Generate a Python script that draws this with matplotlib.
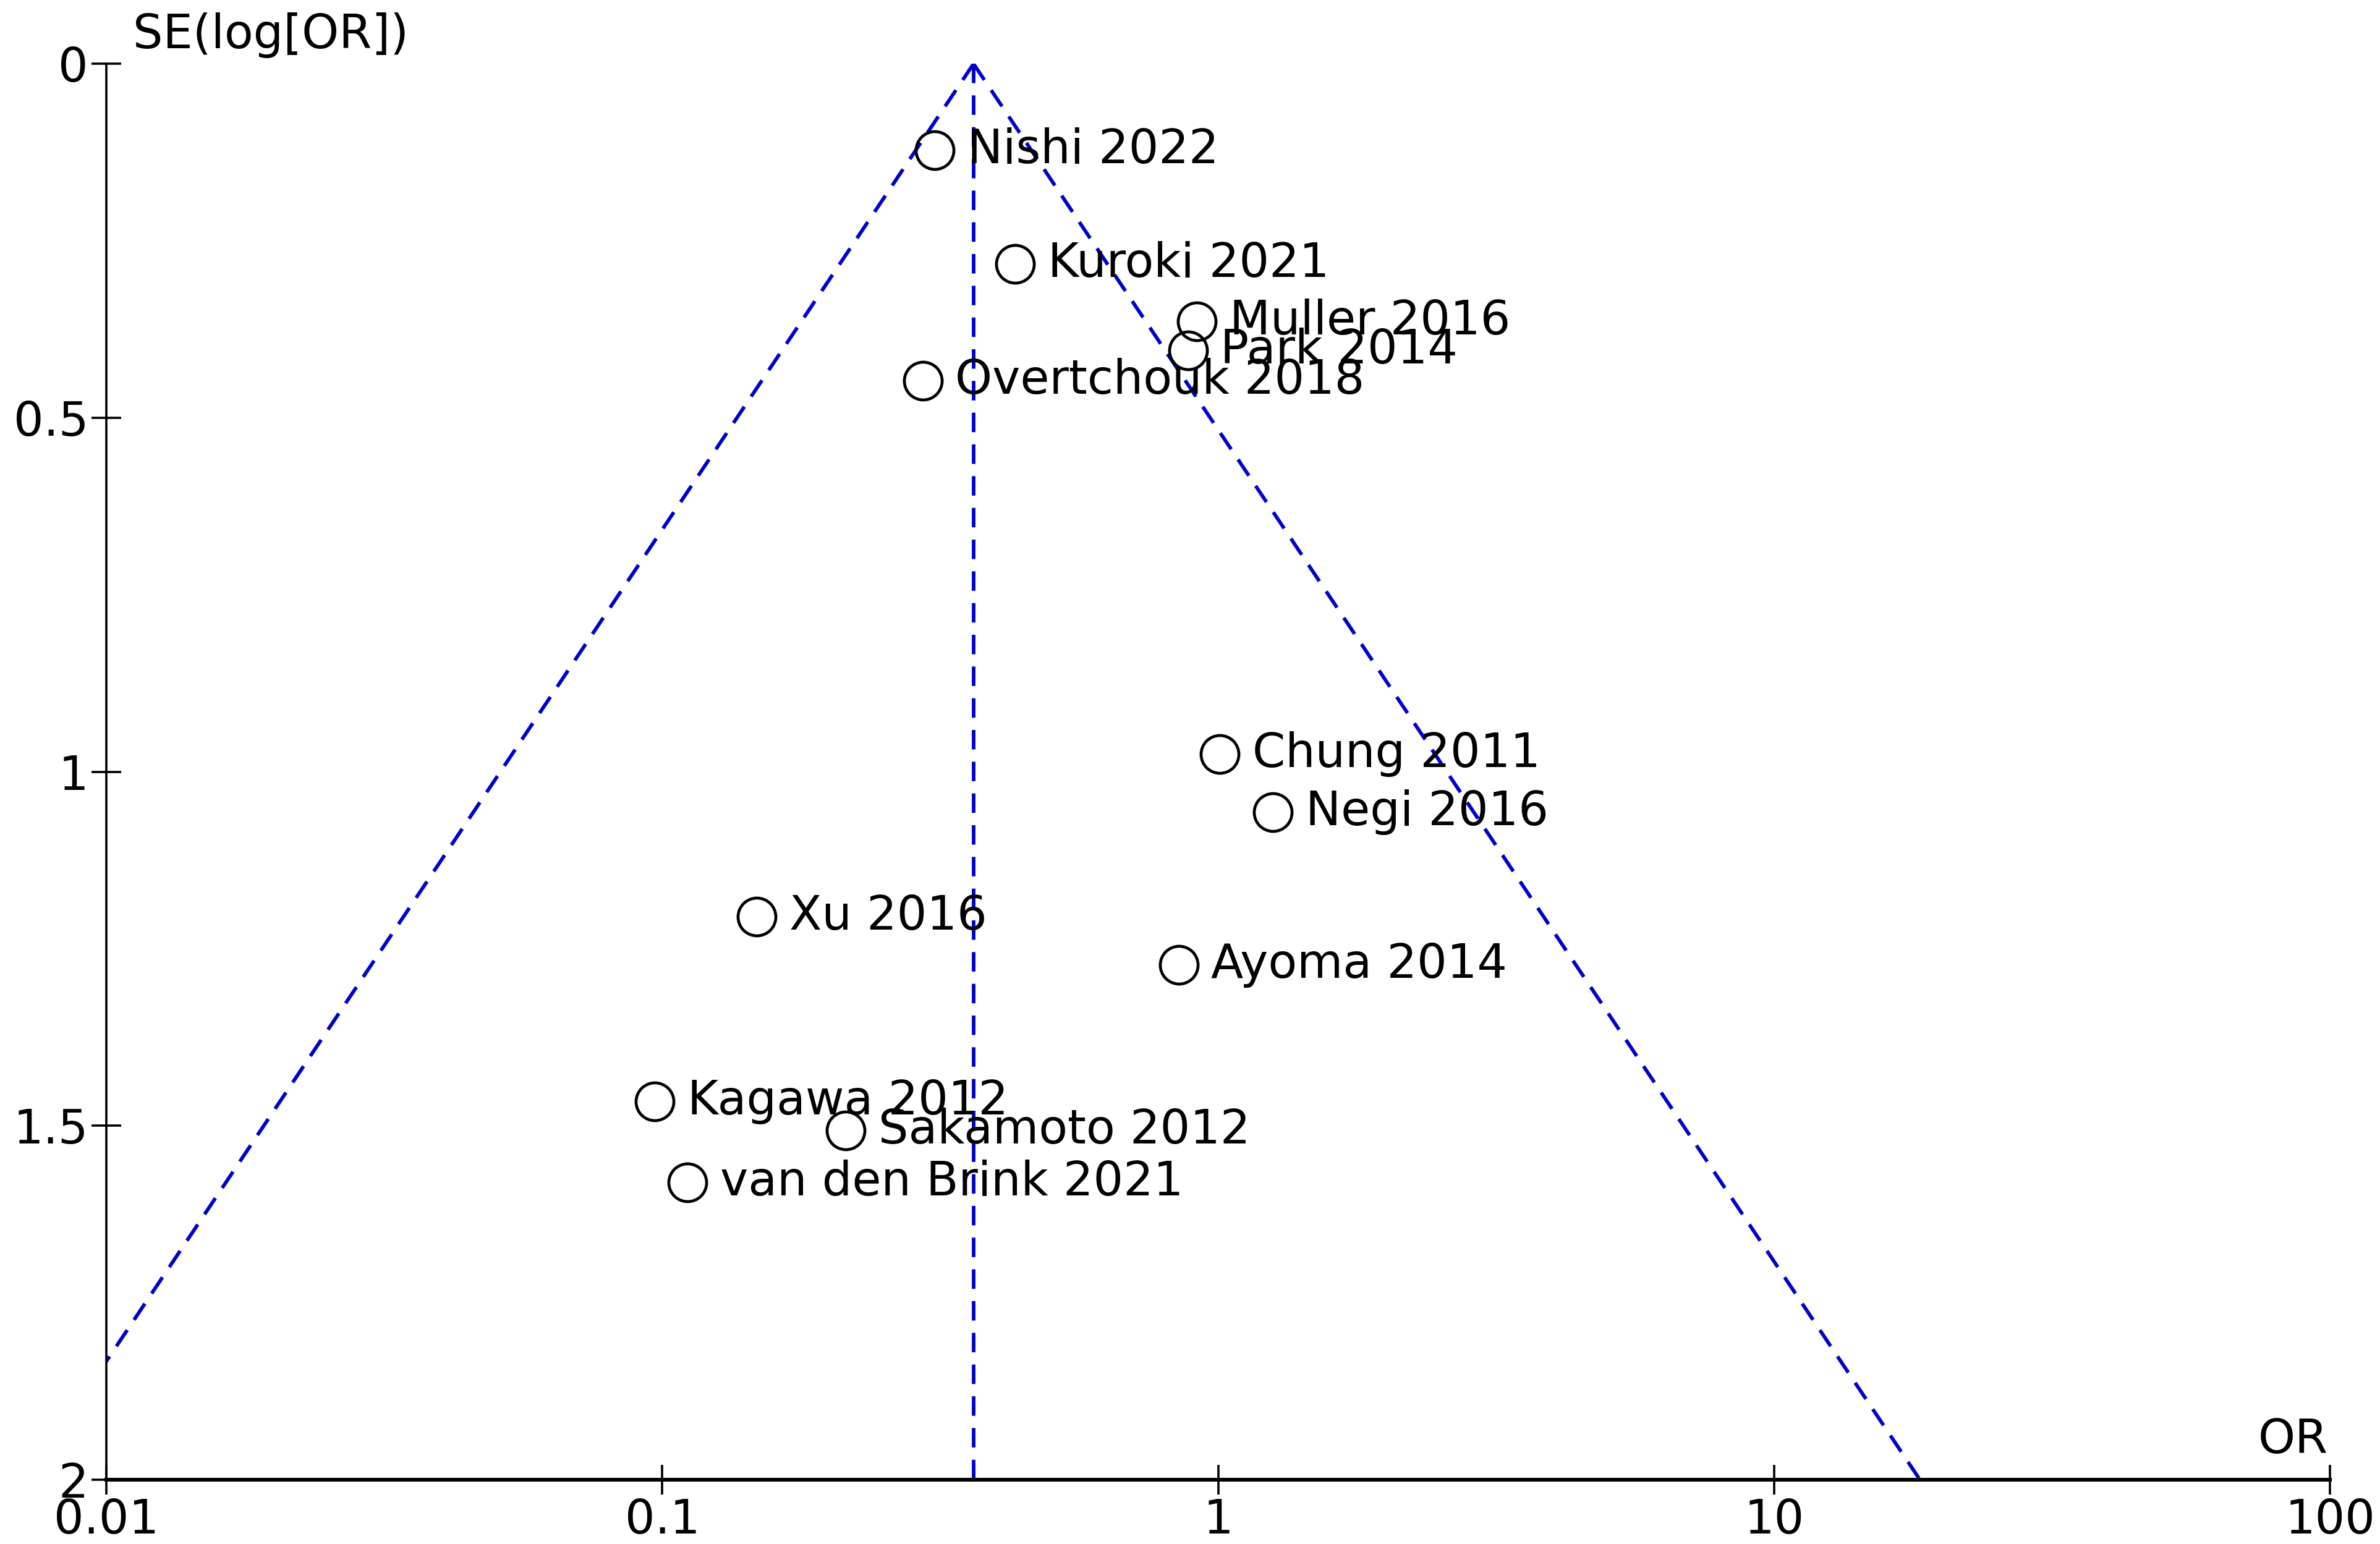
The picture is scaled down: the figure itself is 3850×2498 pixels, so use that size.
import matplotlib
matplotlib.use("Agg")
import matplotlib.pyplot as plt
import numpy as np

# study estimates
STUDIES = [
    "Nishi 2022", "Kuroki 2021", "Muller 2016", "Park 2014", "Overtchouk 2018",
    "Chung 2011", "Negi 2016", "Xu 2016", "Ayoma 2014", "Kagawa 2012",
    "Sakamoto 2012", "van den Brink 2021",
]
ODDS_RATIO = [0.309, 0.431, 0.916, 0.882, 0.294, 1.006, 1.254, 0.148, 0.849, 0.097, 0.214, 0.111]
SE_LOG_OR = [0.122, 0.283, 0.364, 0.405, 0.448, 0.975, 1.057, 1.205, 1.273, 1.466, 1.507, 1.580]

POOLED_OR = 0.363
SE_MAX = 2.0
X_TICKS = [0.01, 0.1, 1, 10, 100]
X_TICK_LABELS = ["0.01", "0.1", "1", "10", "100"]
Y_TICKS = [0, 0.5, 1, 1.5, 2]
Y_TICK_LABELS = ["0", "0.5", "1", "1.5", "2"]

BLUE = "#0000CC"
FS = 27.5


def main() -> None:
    fig = plt.figure(figsize=(19.25, 12.49), dpi=200)
    ax = fig.add_axes([0.0447, 0.0416, 0.979 - 0.0447, 0.9587 - 0.0416])

    ax.set_xscale("log")
    ax.set_xlim(X_TICKS[0], X_TICKS[-1])
    ax.set_ylim(SE_MAX, 0)

    # pseudo 95% confidence funnel around the pooled estimate
    se = np.array([0.0, SE_MAX])
    log_pooled = np.log(POOLED_OR)
    dash_kw = dict(color=BLUE, lw=2.1, dashes=(5.4, 3.4))
    ax.plot(np.exp(log_pooled - 1.96 * se), se, **dash_kw)
    ax.plot(np.exp(log_pooled + 1.96 * se), se, **dash_kw)
    ax.plot([POOLED_OR, POOLED_OR], se, **dash_kw)

    ax.plot(ODDS_RATIO, SE_LOG_OR, "o", ms=22, mfc="none", mec="black", mew=1.7, clip_on=False)
    for name, orv, sev in zip(STUDIES, ODDS_RATIO, SE_LOG_OR):
        ax.annotate(name, (orv, sev), xytext=(19, 0), textcoords="offset points",
                    ha="left", va="center", fontsize=FS, color="black")

    for side in ("top", "right"):
        ax.spines[side].set_visible(False)
    ax.spines["left"].set_linewidth(1.3)
    ax.spines["bottom"].set_linewidth(2.2)

    ax.set_xticks(X_TICKS)
    ax.set_xticklabels(X_TICK_LABELS)
    ax.xaxis.set_minor_locator(matplotlib.ticker.NullLocator())
    ax.set_yticks(Y_TICKS)
    ax.set_yticklabels(Y_TICK_LABELS)
    ax.tick_params(axis="both", direction="inout", length=17, width=1.3,
                   labelsize=FS, pad=2)

    ax.text(0.012, 1.004, "SE(log[OR])", transform=ax.transAxes, fontsize=FS,
            ha="left", va="bottom")
    ax.text(0.999, 0.012, "OR", transform=ax.transAxes, fontsize=FS,
            ha="right", va="bottom")

    fig.savefig("out.png", dpi=200)
    plt.close(fig)


if __name__ == "__main__":
    main()
